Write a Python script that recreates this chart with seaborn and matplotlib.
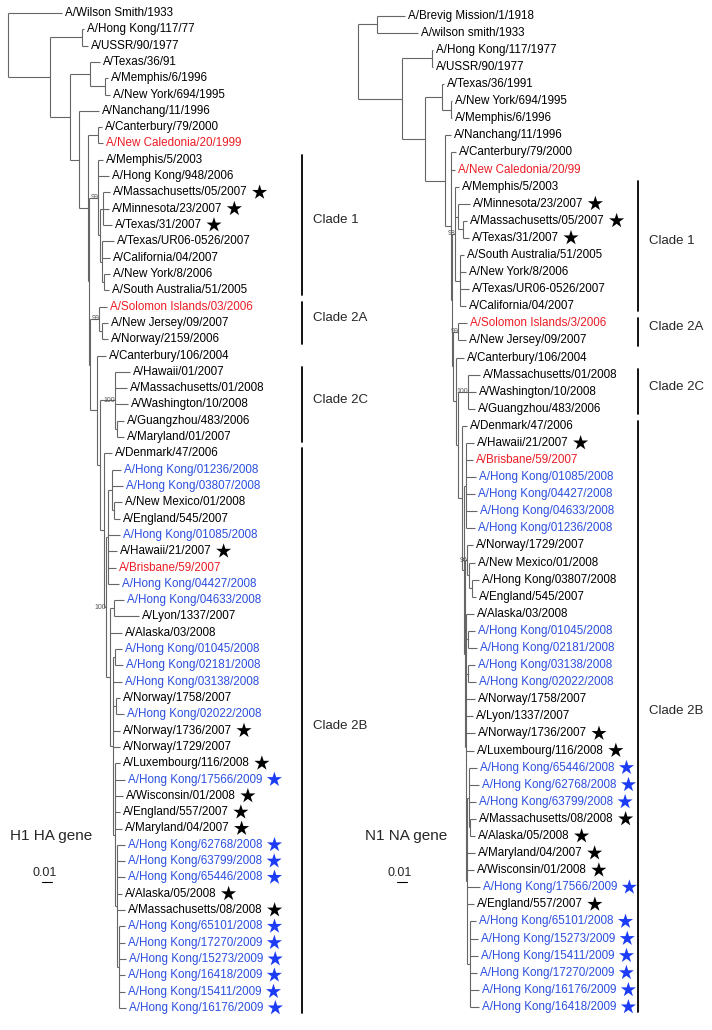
import numpy as np
import pandas as pd
import matplotlib
matplotlib.use('Agg')
from matplotlib import pyplot as plt
import seaborn as sns

# branch lengths are in units of 0.001 substitutions/site (scale bar 0.01 = 10 units)
UNIT = 0.001
SCALE_BAR = 0.01

# ---- H1 HA gene tree -------------------------------------------------------
ha_b2 = ("((A/Hong Kong/01236/2008:9,A/Hong Kong/03807/2008:11,(A/New Mexico/01/2008:8,A/England/545/2007:6):2):4,"
         "A/Hong Kong/01085/2008:12,A/Hawaii/21/2007:9,A/Brisbane/59/2007:8,A/Hong Kong/04427/2008:11)")
ha_b3g = ("(A/Hong Kong/65101/2008:6,A/Hong Kong/17270/2009:6,A/Hong Kong/15273/2009:7,"
          "A/Hong Kong/16418/2009:6,A/Hong Kong/15411/2009:6,A/Hong Kong/16176/2009:7)")
ha_b3f = (f"(A/Hong Kong/62768/2008:8,A/Hong Kong/63799/2008:8,A/Hong Kong/65446/2008:8,"
          f"A/Alaska/05/2008:5,A/Massachusetts/08/2008:8,{ha_b3g}:2)")
ha_b3e = (f"(A/Luxembourg/116/2008:5,A/Hong Kong/17566/2009:10,A/Wisconsin/01/2008:8,"
          f"A/England/557/2007:5,A/Maryland/04/2007:7,{ha_b3f}:2)")
ha_b3b = (f"((A/Hong Kong/01045/2008:7,A/Hong Kong/02181/2008:8):2,A/Hong Kong/03138/2008:9,"
          f"(A/Norway/1758/2007:4,A/Hong Kong/02022/2008:8):3,A/Norway/1736/2007:7,A/Norway/1729/2007:7,{ha_b3e}:2)")
ha_b3 = f"((A/Hong Kong/04633/2008:10,A/Lyon/1337/2007:25):4,A/Alaska/03/2008:12,{ha_b3b}:3)"
ha_2b = f"(A/Denmark/47/2006:8,({ha_b2}:2,{ha_b3}:4)100:2)"
ha_2c = ("(A/Hawaii/01/2007:15,A/Massachusetts/01/2008:12,A/Washington/10/2008:13,"
         "(A/Guangzhou/483/2006:7,A/Maryland/01/2007:7):2)100")
ha_2a = "(A/Solomon Islands/03/2006:8,(A/New Jersey/09/2007:6,A/Norway/2159/2006:6):3)99"
ha_1 = ("(A/Memphis/5/2003:5,A/Hong Kong/948/2006:11,((A/Massachusetts/05/2007:7,A/Minnesota/23/2007:6,"
        "A/Texas/31/2007:9):3,(A/Texas/UR06-0526/2007:12,A/California/04/2007:8,"
        "(A/New York/8/2006:6,A/South Australia/51/2005:5):2):2):2)99")
ha_tree = ("(A/Wilson Smith/1933:54,((A/Hong Kong/117/77:2,A/USSR/90/1977:6):32,"
           "((A/Texas/36/91:10,(A/Memphis/6/1996:3,A/New York/694/1995:5):15):20,"
           "(A/Nanchang/11/1996:20,((A/Canterbury/79/2000:4,A/New Caledonia/20/1999:5):10,"
           f"({ha_1}:9,({ha_2a}:9,(A/Canterbury/106/2004:9,({ha_2c}:15,{ha_2b}:4):3):7):1):1):9):9):20):42);")

ha_red = ['A/New Caledonia/20/1999', 'A/Solomon Islands/03/2006', 'A/Brisbane/59/2007']
ha_blue = ['A/Hong Kong/01236/2008', 'A/Hong Kong/03807/2008', 'A/Hong Kong/01085/2008', 'A/Hong Kong/04427/2008',
           'A/Hong Kong/04633/2008', 'A/Hong Kong/01045/2008', 'A/Hong Kong/02181/2008', 'A/Hong Kong/03138/2008',
           'A/Hong Kong/02022/2008', 'A/Hong Kong/17566/2009', 'A/Hong Kong/62768/2008', 'A/Hong Kong/63799/2008',
           'A/Hong Kong/65446/2008', 'A/Hong Kong/65101/2008', 'A/Hong Kong/17270/2009', 'A/Hong Kong/15273/2009',
           'A/Hong Kong/16418/2009', 'A/Hong Kong/15411/2009', 'A/Hong Kong/16176/2009']
ha_star = ['A/Massachusetts/05/2007', 'A/Minnesota/23/2007', 'A/Texas/31/2007', 'A/Hawaii/21/2007',
           'A/Norway/1736/2007', 'A/Luxembourg/116/2008', 'A/Hong Kong/17566/2009', 'A/Wisconsin/01/2008',
           'A/England/557/2007', 'A/Maryland/04/2007', 'A/Hong Kong/62768/2008', 'A/Hong Kong/63799/2008',
           'A/Hong Kong/65446/2008', 'A/Alaska/05/2008', 'A/Massachusetts/08/2008', 'A/Hong Kong/65101/2008',
           'A/Hong Kong/17270/2009', 'A/Hong Kong/15273/2009', 'A/Hong Kong/16418/2009', 'A/Hong Kong/15411/2009',
           'A/Hong Kong/16176/2009']
ha_clades = [('Clade 1', 'A/Memphis/5/2003', 'A/South Australia/51/2005'),
             ('Clade 2A', 'A/Solomon Islands/03/2006', 'A/Norway/2159/2006'),
             ('Clade 2C', 'A/Hawaii/01/2007', 'A/Maryland/01/2007'),
             ('Clade 2B', 'A/Denmark/47/2006', 'A/Hong Kong/16176/2009')]

# ---- N1 NA gene tree -------------------------------------------------------
na_rb2 = ("(A/Hawaii/21/2007:8,A/Brisbane/59/2007:7,A/Hong Kong/01085/2008:10,A/Hong Kong/04427/2008:9,"
          "A/Hong Kong/04633/2008:11,A/Hong Kong/01236/2008:9)")
na_rb4 = ("(A/Norway/1729/2007:6,(A/New Mexico/01/2008:6,(A/Hong Kong/03807/2008:7,"
          "A/England/545/2007:4):3):2)96")
na_rb7 = ("(A/Hong Kong/65101/2008:6,A/Hong Kong/15273/2009:8,A/Hong Kong/15411/2009:8,"
          "A/Hong Kong/17270/2009:7,A/Hong Kong/16176/2009:9,A/Hong Kong/16418/2009:9)")
na_rb6 = (f"((A/Hong Kong/65446/2008:8,A/Hong Kong/62768/2008:10,A/Hong Kong/63799/2008:7,"
          f"(A/Massachusetts/08/2008:6,A/Alaska/05/2008:5):1):2,A/Maryland/04/2007:8,A/Wisconsin/01/2008:7,"
          f"A/Hong Kong/17566/2009:13,A/England/557/2007:7,{na_rb7}:3)")
na_rb5 = (f"(A/Alaska/03/2008:8,(A/Hong Kong/01045/2008:7,A/Hong Kong/02181/2008:9):2,"
          f"(A/Hong Kong/03138/2008:7,A/Hong Kong/02022/2008:8):2,A/Norway/1758/2007:9,A/Lyon/1337/2007:7,"
          f"A/Norway/1736/2007:9,A/Luxembourg/116/2008:8,{na_rb6}:1)")
na_2b = f"(A/Denmark/47/2006:5,({na_rb2}:2,({na_rb4}:2,{na_rb5}:1):1):2)"
na_2c = "(A/Massachusetts/01/2008:12,A/Washington/10/2008:8,A/Guangzhou/483/2006:7)100"
na_2a = "(A/Solomon Islands/3/2006:9,A/New Jersey/09/2007:8)99"
na_1 = ("(A/Memphis/5/2003:4,(A/Minnesota/23/2007:12,(A/Massachusetts/05/2007:4,A/Texas/31/2007:6):5):3,"
        "(A/South Australia/51/2005:4,A/New York/8/2006:6,A/Texas/UR06-0526/2007:9,A/California/04/2007:6):5)98")
na_tree = ("((A/Brevig Mission/1/1918:28,A/wilson smith/1933:41):19,"
           "((A/Hong Kong/117/1977:1,A/USSR/90/1977:1):30,"
           "((A/Texas/36/1991:2,(A/New York/694/1995:1,A/Memphis/6/1996:1):9):17,"
           "(A/Nanchang/11/1996:6,(A/Canterbury/79/2000:5,A/New Caledonia/20/99:4,"
           f"({na_1}:3,({na_2a}:5,(A/Canterbury/106/2004:8,({na_2c}:10,{na_2b}:4):2):3):1):1):6):20):23):44);")

na_red = ['A/New Caledonia/20/99', 'A/Solomon Islands/3/2006', 'A/Brisbane/59/2007']
na_blue = ['A/Hong Kong/01085/2008', 'A/Hong Kong/04427/2008', 'A/Hong Kong/04633/2008', 'A/Hong Kong/01236/2008',
           'A/Hong Kong/01045/2008', 'A/Hong Kong/02181/2008', 'A/Hong Kong/03138/2008', 'A/Hong Kong/02022/2008',
           'A/Hong Kong/65446/2008', 'A/Hong Kong/62768/2008', 'A/Hong Kong/63799/2008', 'A/Hong Kong/17566/2009',
           'A/Hong Kong/65101/2008', 'A/Hong Kong/15273/2009', 'A/Hong Kong/15411/2009', 'A/Hong Kong/17270/2009',
           'A/Hong Kong/16176/2009', 'A/Hong Kong/16418/2009']
na_star = ['A/Minnesota/23/2007', 'A/Massachusetts/05/2007', 'A/Texas/31/2007', 'A/Hawaii/21/2007',
           'A/Norway/1736/2007', 'A/Luxembourg/116/2008', 'A/Hong Kong/65446/2008', 'A/Hong Kong/62768/2008',
           'A/Hong Kong/63799/2008', 'A/Massachusetts/08/2008', 'A/Alaska/05/2008', 'A/Maryland/04/2007',
           'A/Wisconsin/01/2008', 'A/Hong Kong/17566/2009', 'A/England/557/2007', 'A/Hong Kong/65101/2008',
           'A/Hong Kong/15273/2009', 'A/Hong Kong/15411/2009', 'A/Hong Kong/17270/2009', 'A/Hong Kong/16176/2009',
           'A/Hong Kong/16418/2009']
na_clades = [('Clade 1', 'A/Memphis/5/2003', 'A/California/04/2007'),
             ('Clade 2A', 'A/Solomon Islands/3/2006', 'A/New Jersey/09/2007'),
             ('Clade 2C', 'A/Massachusetts/01/2008', 'A/Guangzhou/483/2006'),
             ('Clade 2B', 'A/Denmark/47/2006', 'A/Hong Kong/16418/2009')]

RED = '#ec1c24'
BLUE = '#2b4fe0'
STAR_BLUE = '#1c3cf5'
LINE = '#666666'


def parse_newick(s):
    s = s.strip().rstrip(';')
    pos = 0

    def node():
        nonlocal pos
        n = {'children': [], 'name': '', 'length': 0.0, 'support': ''}
        if s[pos] == '(':
            pos += 1
            while True:
                n['children'].append(node())
                if s[pos] == ',':
                    pos += 1
                    continue
                pos += 1  # ')'
                break
        start = pos
        while pos < len(s) and s[pos] not in ':,)':
            pos += 1
        label = s[start:pos]
        if n['children']:
            n['support'] = label
        else:
            n['name'] = label
        if pos < len(s) and s[pos] == ':':
            pos += 1
            start = pos
            while pos < len(s) and s[pos] not in ',)':
                pos += 1
            n['length'] = float(s[start:pos]) * UNIT
        return n

    return node()


def layout(tree):
    leaves = []

    def walk(n, x):
        n['x'] = x + n['length'] if n is not tree else 0.0
        if not n['children']:
            n['y'] = len(leaves)
            leaves.append(n)
        else:
            for c in n['children']:
                walk(c, n['x'])
            n['y'] = (n['children'][0]['y'] + n['children'][-1]['y']) / 2
    walk(tree, 0.0)
    return leaves


def draw_tree(fig, ax, newick, red, blue, star, clades, gene, root_px, row0, step, bar_px, label_px):
    # axes data: x = distance (subst/site), y = leaf row; 1 px = UNIT
    ax.set_xlim(-root_px * UNIT, (356 - root_px) * UNIT)
    ax.set_ylim((1030 - row0) / step, -row0 / step)
    ax.axis('off')
    px = lambda p: (p - root_px) * UNIT
    py = lambda p: (p - row0) / step

    tree = parse_newick(newick)
    leaves = layout(tree)

    def draw(n):
        if n['children']:
            ax.plot([n['x'], n['x']], [n['children'][0]['y'], n['children'][-1]['y']],
                    color=LINE, lw=0.8, solid_capstyle='butt')
            for c in n['children']:
                ax.plot([n['x'], c['x']], [c['y'], c['y']], color=LINE, lw=0.8, solid_capstyle='butt')
                draw(c)
            if n['support']:
                ax.text(n['x'] + 0.5 * UNIT, n['y'], n['support'], ha='right', va='center',
                        fontsize=5, color='#555555')
    draw(tree)

    texts = []
    for lf in leaves:
        col = RED if lf['name'] in red else (BLUE if lf['name'] in blue else 'black')
        t = ax.text(lf['x'] + 3 * UNIT, lf['y'], lf['name'], ha='left', va='center',
                    fontsize=8.4, color=col)
        texts.append((lf, t, col))

    # clade bars and labels
    pos = {lf['name']: lf['y'] for lf in leaves}
    for label, first, last in clades:
        y0, y1 = pos[first] - 0.3, pos[last] + 0.3
        ax.plot([px(bar_px), px(bar_px)], [y0, y1], color='black', lw=1.3)
        ax.text(px(bar_px + 11), (y0 + y1) / 2 - 0.3, label, ha='left', va='center', fontsize=9.5)

    # gene label and scale bar
    ax.text(px(label_px), py(836), gene, ha='left', va='center', fontsize=11)
    sx = px(label_px + 32)
    ax.plot([sx, sx + SCALE_BAR], [py(882), py(882)], color='black', lw=0.8)
    ax.text(sx + SCALE_BAR / 2 - 2 * UNIT, py(873), '0.01', ha='center', va='center', fontsize=9)

    # stars after the labels
    fig.canvas.draw()
    rend = fig.canvas.get_renderer()
    inv = ax.transData.inverted()
    rows = []
    for lf, t, col in texts:
        if lf['name'] in star:
            bb = t.get_window_extent(rend)
            xr = inv.transform((bb.x1, bb.y0))[0]
            rows.append({'x': xr + 12 * UNIT, 'y': lf['y'], 'color': STAR_BLUE if col == BLUE else 'black'})
    df = pd.DataFrame(rows)
    xl, yl = ax.get_xlim(), ax.get_ylim()
    sns.scatterplot(data=df, x='x', y='y', hue='color', palette={c: c for c in df['color'].unique()},
                    marker='*', s=130, linewidth=0, legend=False, ax=ax)
    ax.set_xlim(xl)
    ax.set_ylim(yl)
    ax.axis('off')


sns.set_theme(style='white')
plt.rcParams['font.family'] = ['Liberation Sans', 'DejaVu Sans']

fig = plt.figure(figsize=(7.12, 10.30), dpi=100)
ax_l = fig.add_axes([0, 0, 356 / 712, 1])
ax_r = fig.add_axes([356 / 712, 0, 356 / 712, 1])

draw_tree(fig, ax_l, ha_tree, ha_red, ha_blue, ha_star, ha_clades, 'H1 HA gene',
          root_px=8, row0=13, step=16.31, bar_px=302, label_px=10)
draw_tree(fig, ax_r, na_tree, na_red, na_blue, na_star, na_clades, 'N1 NA gene',
          root_px=2, row0=15.7, step=17.09, bar_px=282, label_px=9)

fig.savefig('out.png', dpi=100)
